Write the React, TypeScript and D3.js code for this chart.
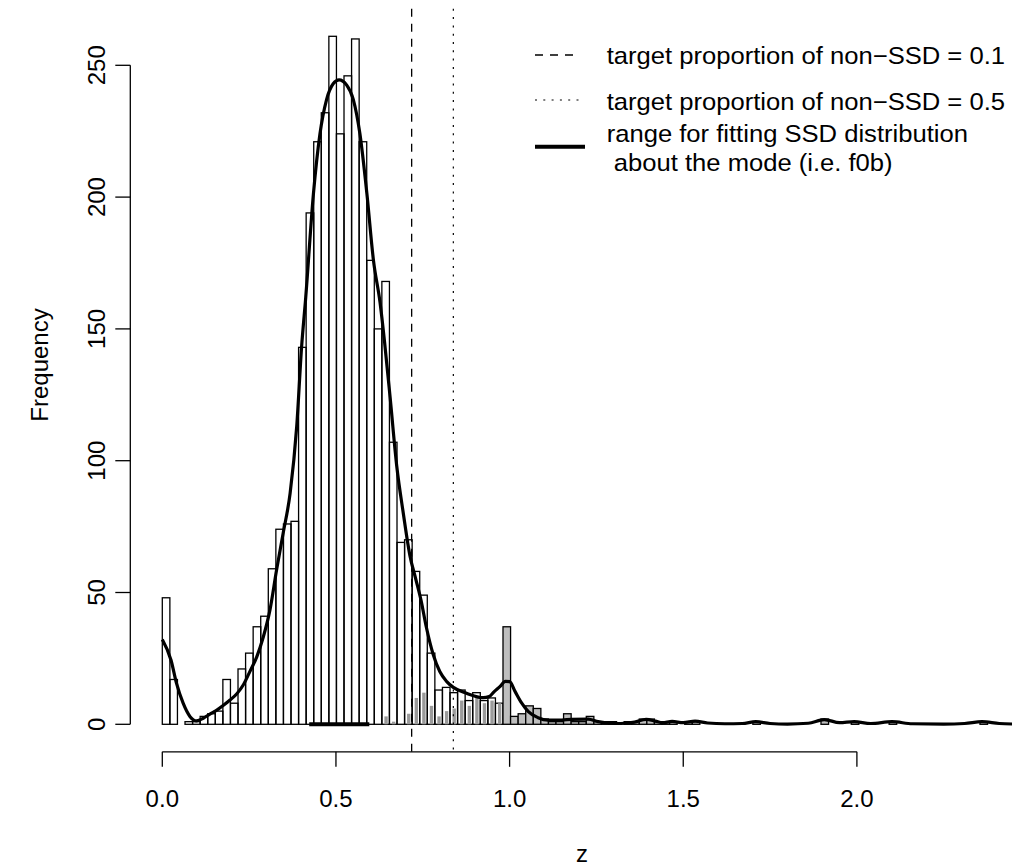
import React from "react";
import * as d3 from "d3";

// ---- data ----
const binWidth = 0.0218;
const counts = [
  48, 17, 0, 1, 1, 3, 4, 5, 17, 8,
  21, 27, 37, 41, 59, 74, 76, 77, 143, 194,
  221, 232, 261, 224, 246, 260, 221, 176, 150, 168,
  107, 69, 70, 58, 49, 27, 13, 14, 12, 13,
  9, 12, 9, 10, 8, 37, 3, 4, 7, 6,
  2, 1, 1, 4, 1, 1, 3, 1, 1, 1,
  0, 1, 1, 2, 2, 1, 1, 1, 0, 1,
  1, 0, 0, 0, 0, 0, 0, 0, 1, 0,
  0, 0, 0, 0, 0, 0, 0, 2, 0, 0,
  0, 1, 0, 0, 0, 0, 1, 0, 0, 0,
  0, 0, 0, 0, 0, 0, 0, 0, 1, 0, 0,
];
// non-SSD subset counts (grey), narrow bars by bin index
const greyBins = [29, 30, 31, 32, 33, 34, 35, 36, 37, 38, 39, 40, 41, 42, 43, 44];
const greyCounts = [3, 1, 0, 4, 10, 12, 7, 3, 5, 6, 9, 7, 10, 8, 9, 8];
const firstFilledBin = 45; // from here the grey fills the whole bin

const densityZ = [
  0.0, 0.025, 0.041, 0.06, 0.08, 0.099, 0.118, 0.137, 0.157, 0.176,
  0.195, 0.214, 0.233, 0.252, 0.272, 0.291, 0.31, 0.329, 0.348, 0.368,
  0.387, 0.401, 0.413, 0.435, 0.454, 0.473, 0.492, 0.509, 0.531, 0.55,
  0.569, 0.589, 0.608, 0.627, 0.64, 0.656, 0.675, 0.694, 0.713, 0.73,
  0.745, 0.76, 0.78, 0.799, 0.819, 0.838, 0.876, 0.924, 0.941, 0.955,
  0.972, 0.988, 1.0, 1.016, 1.035, 1.054, 1.082, 1.111, 1.15, 1.178,
  1.226, 1.255, 1.294, 1.32, 1.36, 1.393, 1.42, 1.44, 1.468, 1.5,
  1.534, 1.57, 1.62, 1.67, 1.709, 1.75, 1.8, 1.86, 1.906, 1.95,
  1.992, 2.04, 2.101, 2.16, 2.25, 2.31, 2.36, 2.41, 2.47,
];
const densityF = [
  32.2, 24.4, 15.5, 8.0, 2.9, 1.3, 2.3, 3.9, 5.4, 7.2,
  9.2, 11.5, 14.9, 20.0, 25.6, 33.2, 43.4, 58.5, 72.5, 87.6,
  112.9, 143, 162, 201, 224, 237, 243, 244.5, 242.5, 237,
  224, 201.4, 176, 160, 145, 124, 98, 80, 64, 55,
  47, 37, 26.5, 20, 16.2, 14, 11.8, 10.1, 10.5, 12.3,
  14.3, 16.3, 16.2, 12.4, 8, 4.8, 2.5, 1.6, 1.6, 1.9,
  2.0, 1.0, 0.4, 0.3, 0.8, 1.9, 1.2, 0.6, 1.1, 0.6,
  1.2, 0.5, 0.2, 0.3, 1.0, 0.3, 0.1, 0.4, 1.8, 0.6,
  1.0, 0.3, 1.0, 0.2, 0.1, 0.3, 1.0, 0.3, 0.05,
];

const fitRange = [0.423, 0.596];
const cut01 = 0.718;
const cut05 = 0.838;

const xTicks = [0, 0.5, 1, 1.5, 2];
const yTicks = [0, 50, 100, 150, 200, 250];
const legendLabels = [
  "target proportion of non\u2212SSD = 0.1",
  "target proportion of non\u2212SSD = 0.5",
  "range for fitting SSD distribution",
  " about the mode (i.e. f0b)",
];

const FONT = "'Liberation Sans', Arial, Helvetica, sans-serif";

export default function App() {
  const W = 1012;
  const H = 867;
  const x = d3.scaleLinear().domain([0, 2]).range([162.3, 856.9]);
  const y = d3.scaleLinear().domain([0, 250]).range([724.3, 65.3]);
  const plotTop = 8.8;
  const plotBottom = 751.8;
  const plotLeft = 130.3;
  const tick = 15;
  const fs = 24;
  const legX = 606.7;
  const legScale = 1.067;

  const line = d3
    .line<number>()
    .x((_, i) => x(densityZ[i]))
    .y((d) => y(d))
    .curve(d3.curveMonotoneX);

  const bw = x(binWidth) - x(0);

  return (
    <svg
      width={W}
      height={H}
      style={{ position: "fixed", left: 0, top: 0, background: "#fff" }}
      fontFamily={FONT}
    >
      <rect x={0} y={0} width={W} height={H} fill="#fff" />
      {/* histogram bars */}
      {counts.map((c, i) => (
        <rect
          key={"b" + i}
          x={x(i * binWidth)}
          y={y(c)}
          width={bw}
          height={y(0) - y(c)}
          fill={i >= firstFilledBin && c > 0 ? "#bebebe" : "none"}
          stroke="#000"
          strokeWidth={1.3}
        />
      ))}
      {/* grey narrow bars */}
      {greyBins.map((b, i) => {
        const cx = x((b + 0.5) * binWidth) + 0.4;
        const w = 3.4;
        return (
          <rect
            key={"g" + i}
            x={cx - w / 2}
            y={y(greyCounts[i])}
            width={w}
            height={y(0) - y(greyCounts[i])}
            fill="#9a9a9a"
          />
        );
      })}
      {/* density curve */}
      <path d={line(densityF) || ""} fill="none" stroke="#000" strokeWidth={3.2} strokeLinejoin="round" />
      {/* fit range */}
      <line x1={x(fitRange[0])} x2={x(fitRange[1])} y1={y(0)} y2={y(0)} stroke="#000" strokeWidth={4} />
      {/* cut lines */}
      <line x1={x(cut01)} x2={x(cut01)} y1={plotTop} y2={plotBottom} stroke="#000" strokeWidth={1.3} strokeDasharray="8,7" />
      <line x1={x(cut05)} x2={x(cut05)} y1={plotTop} y2={plotBottom} stroke="#000" strokeWidth={1.2} strokeDasharray="2,6.3" />

      {/* x axis */}
      <line x1={x(xTicks[0])} x2={x(xTicks[xTicks.length - 1])} y1={plotBottom} y2={plotBottom} stroke="#000" strokeWidth={1.3} />
      {xTicks.map((t) => (
        <g key={"xt" + t}>
          <line x1={x(t)} x2={x(t)} y1={plotBottom} y2={plotBottom + tick} stroke="#000" strokeWidth={1.3} />
          <text x={x(t)} y={807} fontSize={fs} textAnchor="middle">
            {t.toFixed(1)}
          </text>
        </g>
      ))}
      <text x={582} y={862} fontSize={fs} textAnchor="middle">z</text>

      {/* y axis */}
      <line x1={plotLeft} x2={plotLeft} y1={y(yTicks[0])} y2={y(yTicks[yTicks.length - 1])} stroke="#000" strokeWidth={1.3} />
      {yTicks.map((t) => (
        <g key={"yt" + t}>
          <line x1={plotLeft - tick} x2={plotLeft} y1={y(t)} y2={y(t)} stroke="#000" strokeWidth={1.3} />
          <text
            transform={`translate(104.6,${y(t)}) rotate(-90)`}
            fontSize={fs}
            textAnchor="middle"
          >
            {t}
          </text>
        </g>
      ))}
      <text transform={`translate(48,365) rotate(-90)`} fontSize={fs} textAnchor="middle">
        Frequency
      </text>

      {/* legend */}
      <line x1={535} x2={580} y1={55} y2={55} stroke="#000" strokeWidth={1.3} strokeDasharray="8,7" />
      <line x1={535} x2={583} y1={100} y2={100} stroke="#000" strokeWidth={1.2} strokeDasharray="2,6.3" />
      <line x1={535} x2={585} y1={146.7} y2={146.7} stroke="#000" strokeWidth={4} />
      <g transform={`translate(${legX},0) scale(${legScale},1)`}>
        <text x={0} y={64} fontSize={fs}>{legendLabels[0]}</text>
        <text x={0} y={110} fontSize={fs}>{legendLabels[1]}</text>
        <text x={0} y={141.7} fontSize={fs}>{legendLabels[2]}</text>
        <text x={0} y={170.7} fontSize={fs} style={{ whiteSpace: "pre" }}>{legendLabels[3]}</text>
      </g>
    </svg>
  );
}
